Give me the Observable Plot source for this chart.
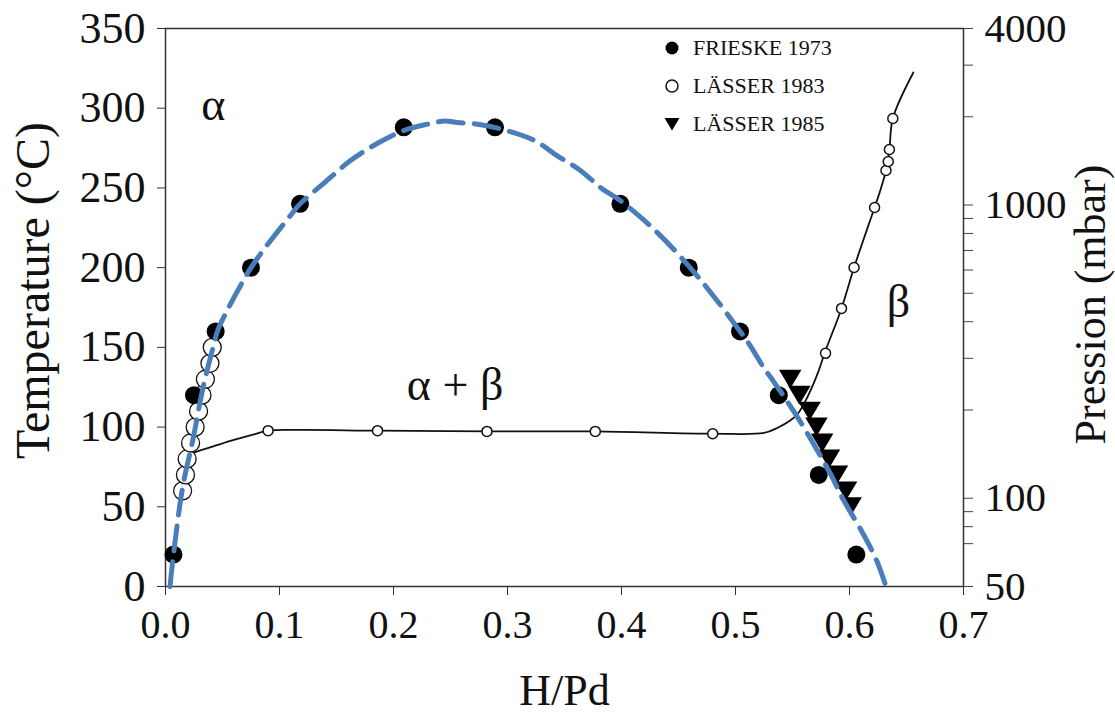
<!DOCTYPE html>
<html><head><meta charset="utf-8">
<script src="https://cdn.jsdelivr.net/npm/d3@7"></script>
<script src="https://cdn.jsdelivr.net/npm/@observablehq/plot@0.6"></script>
<style>
body{margin:0;background:#fff;}
#wrap{position:relative;width:1115px;height:717px;}
#legend{position:absolute;left:660px;top:29px;font-family:"Liberation Serif","Times New Roman",serif;font-size:22px;color:#111;}
.row{display:flex;align-items:center;height:38px;}
.row svg{width:24px;height:24px;margin-right:9px;}
</style></head><body><div id="wrap"></div>
<script>
// ---- data ----
const xTicks = [0, 0.1, 0.2, 0.3, 0.4, 0.5, 0.6, 0.7];
const tempTicks = [0, 50, 100, 150, 200, 250, 300, 350];
const pMajor = [50, 100, 1000, 4000];
const pMinor = [70, 80, 90, 200, 300, 400, 500, 600, 700, 800, 900, 2000, 3000];

const frieskeH = [0.007, 0.025, 0.044, 0.075, 0.118, 0.209, 0.289, 0.399, 0.459, 0.504, 0.538, 0.573, 0.606];
const frieskeT = [20, 120, 160, 200, 240, 288, 288, 240, 200, 160, 120, 70, 20];

const lasser83H = [0.015, 0.0175, 0.019, 0.022, 0.026, 0.029, 0.032, 0.035, 0.039, 0.041];
const lasser83T = [60, 70, 80, 90, 100, 110, 120, 130, 140, 150];

const lasser85H = [0.548, 0.556, 0.565, 0.571, 0.576, 0.582, 0.589, 0.597, 0.601];
const lasser85T = [130, 120, 110, 100, 90, 80, 70, 60, 50];

const domeH = [0.004, 0.006, 0.015, 0.024, 0.033, 0.041, 0.046, 0.054, 0.066, 0.075, 0.089, 0.110, 0.118, 0.139, 0.162, 0.186, 0.209, 0.230, 0.245, 0.256, 0.274, 0.294, 0.323, 0.344, 0.364, 0.382, 0.399, 0.430, 0.459, 0.482, 0.503, 0.513, 0.525, 0.533, 0.551, 0.568, 0.583, 0.595, 0.612, 0.624, 0.632];
const domeT = [0, 14, 62, 92, 125, 148, 161, 173, 189, 200, 214, 233, 240, 253, 267, 278, 286, 290, 292, 291, 290, 287, 280, 270, 261, 250, 242, 223, 201, 181, 161, 151, 137, 129, 110, 90, 71, 54, 33, 16, 0];

const isoH = [0.014, 0.025, 0.039, 0.057, 0.075, 0.090, 0.118, 0.186, 0.282, 0.377, 0.480, 0.525, 0.537, 0.548, 0.555, 0.563, 0.572, 0.579, 0.593, 0.604, 0.622, 0.627, 0.632, 0.635, 0.638, 0.656];
const isoP = [135, 143, 149, 157, 164, 170, 171, 170, 169, 169, 166, 167, 174, 184, 195, 221, 266, 319, 444, 612, 981, 1121, 1311, 1547, 1973, 2832];

const isoMarkH = [0.090, 0.186, 0.282, 0.377, 0.480, 0.579, 0.593, 0.604, 0.622, 0.632, 0.634, 0.635, 0.638];
const isoMarkP = [170, 170, 169, 169, 166, 312, 444, 612, 981, 1311, 1408, 1547, 1973];

const phaseLabels = ["α", "α + β", "β"];
const phaseH = [0.042, 0.254, 0.643];
const phaseT = [302, 126, 178];

const legendLabels = ["FRIESKE 1973", "LÄSSER 1983", "LÄSSER 1985"];

// ---- helpers ----
const pMin = 50, pMax = 4000, tMax = 350;
const pToT = p => tMax * Math.log(p / pMin) / Math.log(pMax / pMin);
const tToP = t => pMin * Math.exp(t / tMax * Math.log(pMax / pMin));
const zip = (xs, ys, k = "y") => xs.map((x, i) => ({x, [k]: ys[i]}));

const frieske = zip(frieskeH, frieskeT);
const lasser83 = zip(lasser83H, lasser83T);
const lasser85 = zip(lasser85H, lasser85T);
const dome = zip(domeH, domeT);
const iso = zip(isoH, isoP, "p");
const isoMarks = zip(isoMarkH, isoMarkP, "p");
const phases = phaseLabels.map((t, i) => ({t, x: phaseH[i], y: phaseT[i]}));

const triDown = {draw(ctx, size) {
  const r = Math.sqrt(size / Math.PI);
  const w = r * 1.25, h = r * 1.05;
  ctx.moveTo(-w, -h); ctx.lineTo(w, -h); ctx.lineTo(0, h); ctx.closePath();
}};

const serif = "'Liberation Serif','Times New Roman',serif";
const blue = "#4a7ebb";

const chart = Plot.plot({
  width: 1115, height: 717,
  marginLeft: 165, marginRight: 152, marginTop: 28, marginBottom: 131,
  style: {fontFamily: serif, color: "#111", background: "#fff"},
  x: {domain: [0, 0.7]},
  y: {domain: [0, 350]},
  marks: [
    Plot.frame({stroke: "#333", strokeWidth: 1.5}),
    Plot.axisX({ticks: xTicks, tickFormat: d3.format(".1f"), tickSize: 9, tickPadding: 14, fontSize: 40, label: null, stroke: "#333"}),
    Plot.axisY({anchor: "left", ticks: tempTicks, tickSize: 8, tickPadding: 12, fontSize: 44, label: null, stroke: "#333"}),
    Plot.axisY({anchor: "right", ticks: pMajor.map(pToT), tickFormat: d => String(Math.round(tToP(d))), tickSize: 9, tickPadding: 12, fontSize: 41, label: null, stroke: "#444"}),
    Plot.axisY({anchor: "right", ticks: pMinor.map(pToT), tickFormat: () => "", tickSize: 9, label: null, stroke: "#444"}),
    Plot.text(["Temperature (°C)"], {frameAnchor: "left", rotate: -90, dx: -132, dy: -17, fontSize: 48, textAnchor: "middle", lineAnchor: "middle", fill: "#111"}),
    Plot.text(["Pression (mbar)"], {frameAnchor: "right", rotate: -90, dx: 127, dy: -3, fontSize: 44, textAnchor: "middle", lineAnchor: "middle", fill: "#111"}),
    Plot.text(["H/Pd"], {frameAnchor: "bottom", dy: 104, fontSize: 44, lineAnchor: "middle", fill: "#111"}),
    // isotherm (right axis, pressure)
    Plot.line(iso, {x: "x", y: d => pToT(d.p), stroke: "#111", strokeWidth: 1.8, curve: "catmull-rom"}),
    Plot.dot(isoMarks, {x: "x", y: d => pToT(d.p), r: 5, fill: "white", stroke: "#111", strokeWidth: 1.5}),
    // data (left axis, temperature)
    Plot.dot(lasser83, {x: "x", y: "y", r: 9, fill: "white", stroke: "#111", strokeWidth: 1.3}),
    Plot.dot(frieske, {x: "x", y: "y", r: 9, fill: "#000"}),
    Plot.dot(lasser85, {x: "x", y: "y", r: 9, symbol: triDown, fill: "#000"}),
    Plot.line(dome, {x: "x", y: "y", stroke: blue, strokeWidth: 5, strokeDasharray: "25,11", curve: "catmull-rom"}),
    Plot.text(phases, {x: "x", y: "y", text: "t", fontSize: 46, fill: "#111"})
  ]
});

const wrap = document.getElementById("wrap");
wrap.appendChild(chart);

// legend
const syms = [
  '<circle cx="12" cy="12" r="6.5" fill="#000"/>',
  '<circle cx="12" cy="12" r="6" fill="#fff" stroke="#111" stroke-width="1.5"/>',
  '<path d="M4.5 6 L19.5 6 L12 18.5 Z" fill="#000"/>'
];
const lg = document.createElement("div");
lg.id = "legend";
lg.innerHTML = legendLabels.map((l, i) => `<div class="row"><svg viewBox="0 0 24 24">${syms[i]}</svg><span>${l}</span></div>`).join("");
wrap.appendChild(lg);
</script></body></html>
